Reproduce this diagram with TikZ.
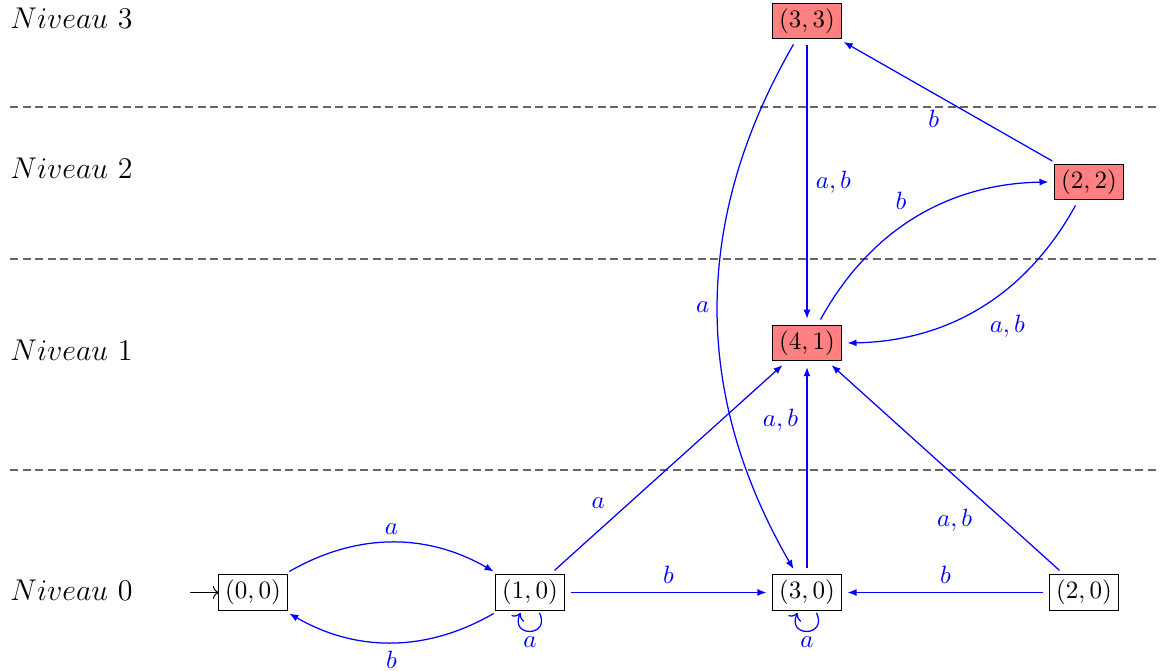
\documentclass[tikz,border=0pt]{standalone}
\usetikzlibrary{arrows.meta}
\begin{document}
\begin{tikzpicture}[x=0.4pt,y=-0.4pt,
  state/.style={draw=black,line width=0.4pt,rectangle,inner xsep=2.5pt,inner ysep=2.1pt,outer sep=0pt},
  hot/.style={state,fill=red!50},
  tr/.style={draw=blue,line width=0.5pt,-{Latex[length=3.6pt,width=2.8pt]},shorten >=2.6pt,shorten <=2.6pt},
  lp/.style={draw=blue,line width=0.5pt,->,shorten >=1.2pt,shorten <=1.2pt},
  lpath/.style={out=-65,in=-115,min distance=12pt,max distance=12pt},
  lab/.style={text=blue},
  lvl/.style={anchor=base west,inner sep=0pt,font=\large},
  sepline/.style={draw=black!60,line width=0.5pt,dash pattern=on 3.3pt off 1.7pt}
]
\useasboundingbox (0,0) rectangle (1160,671);

% level separators
\draw[sepline] (10,107) -- (1160,107);
\draw[sepline] (10,259) -- (1160,259);
\draw[sepline] (10,470) -- (1160,470);

% level labels
\node[lvl] (l3) at (10,29) {$Niveau\ 3$};
\node[lvl] (l2) at (10,179) {$Niveau\ 2$};
\node[lvl] (l1) at (10,361) {$Niveau\ 1$};
\node[lvl] (l0) at (10,601) {$Niveau\ 0$};

% states
\node[state] (n00) at (253,592.5) {$(0,0)$};
\node[state] (n10) at (530,592.5) {$(1,0)$};
\node[state] (n30) at (807,592.5) {$(3,0)$};
\node[state] (n20) at (1084,592.5) {$(2,0)$};
\node[hot] (n41) at (807,343) {$(4,1)$};
\node[hot] (n22) at (1089,182) {$(2,2)$};
\node[hot] (n33) at (807,21) {$(3,3)$};

% initial arrow
\coordinate (init) at (190,592.5);
\draw[->,line width=0.4pt] (init) -- (n00);

% transitions
\draw[tr] (n00) to[bend left=30] node[lab,above]{$a$} (n10);
\draw[tr] (n10) to[bend left=30] node[lab,below]{$b$} (n00);
\draw[lp] (n10) to[lpath] node[lab,below,inner sep=2pt]{$a$} (n10);
\draw[lp] (n30) to[lpath] node[lab,below,inner sep=2pt]{$a$} (n30);
\draw[tr] (n10) -- node[lab,above]{$b$} (n30);
\draw[tr] (n20) -- node[lab,above]{$b$} (n30);
\draw[tr] (n10) -- node[lab,above left,pos=0.27]{$a$} (n41);
\draw[tr] (n30) -- node[lab,left,pos=0.72]{$a,b$} (n41);
\draw[tr] (n20) -- node[lab,below left,pos=0.35]{$a,b$} (n41);
\draw[tr] (n33) -- node[lab,right]{$a,b$} (n41);
\draw[tr] (n33) to[bend right=30] node[lab,left]{$a$} (n30);
\draw[tr] (n41) to[bend left=30] node[lab,above left]{$b$} (n22);
\draw[tr] (n22) to[bend left=30] node[lab,below right]{$a,b$} (n41);
\draw[tr] (n22) -- node[lab,below left]{$b$} (n33);
\end{tikzpicture}
\end{document}
